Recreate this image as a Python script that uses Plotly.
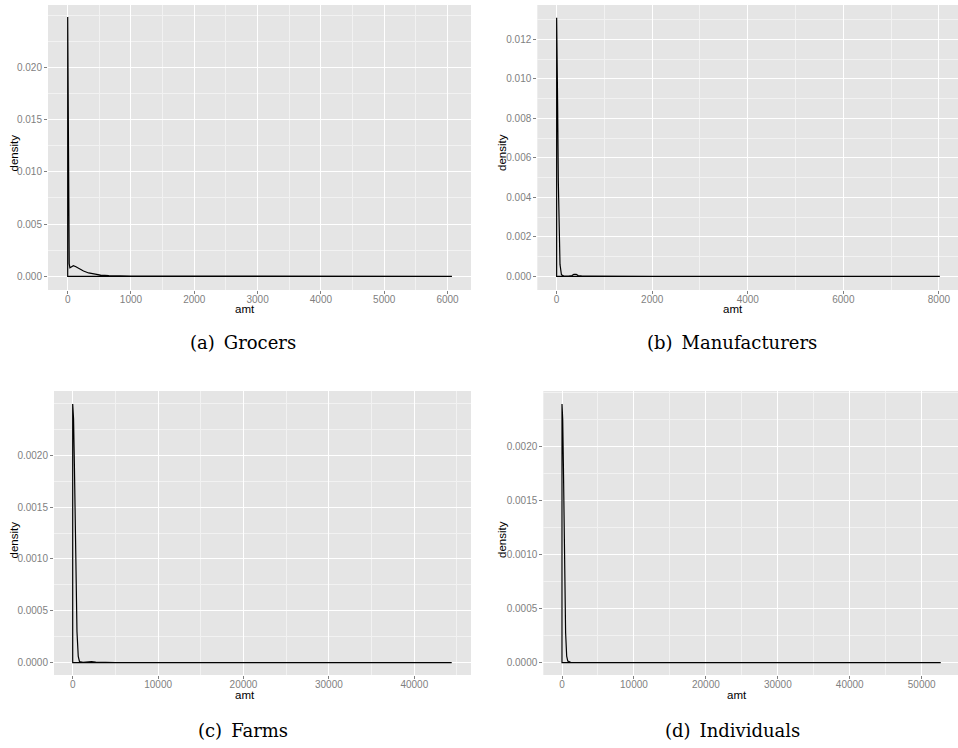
import plotly.graph_objects as go

# Kernel density estimates of transaction amounts, one panel per buyer type
panel_names = ["Grocers", "Manufacturers", "Farms", "Individuals"]
panel_tags = ["(a)", "(b)", "(c)", "(d)"]

grocers_amt = [0, 8, 16, 24, 35, 60, 90, 130, 180, 250, 330, 420, 520, 650, 800,
               1000, 1500, 2000, 3000, 4000, 5000, 6070]
grocers_density = [0.0248, 0.0175, 0.0060, 0.0012, 0.00082, 0.00092, 0.00101, 0.00092,
                   0.00072, 0.00050, 0.00032, 0.00020, 0.00011, 0.00006, 0.00004,
                   0.00003, 0.00002, 0.000012, 0.000006, 0.000004, 0.000003, 0.000002]

manufacturers_amt = [0, 10, 20, 35, 50, 70, 100, 150, 250, 320, 360, 385, 410, 450, 520,
                     700, 1000, 2000, 4000, 6000, 8020]
manufacturers_density = [0.0131, 0.0118, 0.0088, 0.0048, 0.0021, 0.0006, 0.00008, 0.00001,
                         0.00001, 0.00004, 0.00010, 0.00012, 0.00010, 0.00004, 0.00002,
                         0.00001, 0.000005, 0.000002, 0.000001, 0.0000005, 0.0000005]

farms_amt = [0, 100, 200, 300, 400, 500, 650, 800, 1200, 1800, 2200, 2700, 3500, 5000,
             10000, 20000, 30000, 44380]
farms_density = [0.002495, 0.00235, 0.0019, 0.0013, 0.0007, 0.0003, 0.00006, 0.00001,
                 0.000004, 0.000008, 0.00001, 0.000006, 0.000003, 0.000001, 0.0000005,
                 0.0000002, 0.0000001, 0.0000001]

individuals_amt = [0, 100, 200, 300, 400, 500, 650, 800, 1200, 2000, 5000, 10000, 20000,
                   30000, 40000, 52650]
individuals_density = [0.002395, 0.00225, 0.0018, 0.0012, 0.00065, 0.00028, 0.00006,
                       0.000015, 0.000004, 0.000002, 0.000001, 0.0000005, 0.0000002,
                       0.0000001, 0.0000001, 0.0000001]

series = [(grocers_amt, grocers_density), (manufacturers_amt, manufacturers_density),
          (farms_amt, farms_density), (individuals_amt, individuals_density)]

# axis ticks per panel
x_ticks = [[0, 1000, 2000, 3000, 4000, 5000, 6000],
           [0, 2000, 4000, 6000, 8000],
           [0, 10000, 20000, 30000, 40000],
           [0, 10000, 20000, 30000, 40000, 50000]]
x_minor = [500, 1000, 5000, 5000]
y_ticks = [[0.000, 0.005, 0.010, 0.015, 0.020],
           [0.000, 0.002, 0.004, 0.006, 0.008, 0.010, 0.012],
           [0.0000, 0.0005, 0.0010, 0.0015, 0.0020],
           [0.0000, 0.0005, 0.0010, 0.0015, 0.0020]]
y_minor = [0.0025, 0.001, 0.00025, 0.00025]
y_fmt = [".3f", ".3f", ".4f", ".4f"]

x_ranges = [[-311, 6371], [-405, 8400], [-2190, 46640], [-2600, 55050]]
y_ranges = [[-0.00131, 0.02596], [-0.000694, 0.01374],
            [-0.000119, 0.00262], [-0.000114, 0.002516]]

W, H = 958, 748
# panel rectangles in pixels: left, right, top, bottom
boxes = [(48, 471, 5, 290), (537.3, 958, 5, 290),
         (54, 471, 391, 675), (543.3, 958, 391, 675)]

GREY = "#7F7F7F"
BG = "#E5E5E5"
SANS = "Liberation Sans, Arial, sans-serif"

fig = go.Figure()
layout = dict(width=W, height=H, autosize=False,
              margin=dict(l=0, r=0, t=0, b=0),
              paper_bgcolor="white", plot_bgcolor=BG, showlegend=False,
              font=dict(family=SANS, size=10, color=GREY))
annotations = []

for i, (amt, dens) in enumerate(series):
    n = i + 1
    xa = "x" if n == 1 else f"x{n}"
    ya = "y" if n == 1 else f"y{n}"
    # closed density outline, including the baseline
    xs = list(amt) + [amt[-1], amt[0], amt[0]]
    ys = list(dens) + [0, 0, dens[0]]
    fig.add_trace(go.Scatter(x=xs, y=ys, mode="lines", xaxis=xa, yaxis=ya,
                             line=dict(color="black", width=1.2), hoverinfo="skip"))

    l, r, t, b = boxes[i]
    xkey = "xaxis" if n == 1 else f"xaxis{n}"
    ykey = "yaxis" if n == 1 else f"yaxis{n}"
    layout[xkey] = dict(domain=[l / W, r / W], anchor=ya, range=x_ranges[i],
                        tickvals=x_ticks[i], ticktext=[str(v) for v in x_ticks[i]],
                        ticks="outside", ticklen=3, tickwidth=1, tickcolor=GREY,
                        ticklabelstandoff=-3,
                        showgrid=True, gridcolor="white", gridwidth=1.3,
                        zeroline=False, showline=False,
                        tickfont=dict(family=SANS, size=10, color=GREY),
                        minor=dict(dtick=x_minor[i], tick0=0, showgrid=True,
                                   gridcolor="#F2F2F2", gridwidth=0.6, ticks=""))
    layout[ykey] = dict(domain=[1 - b / H, 1 - t / H], anchor=xa, range=y_ranges[i],
                        tickvals=y_ticks[i], tickformat=y_fmt[i],
                        ticks="outside", ticklen=3, tickwidth=1, tickcolor=GREY,
                        showgrid=True, gridcolor="white", gridwidth=1.3,
                        zeroline=False, showline=False,
                        tickfont=dict(family=SANS, size=10, color=GREY),
                        minor=dict(dtick=y_minor[i], tick0=0, showgrid=True,
                                   gridcolor="#F2F2F2", gridwidth=0.6, ticks=""))

# axis titles and sub-figure captions (pixel positions)
amt_pos = [(245, 309), (733, 309), (245, 695), (737, 695)]
dens_pos = [(13.5, 153), (502, 153), (13.5, 540), (502, 540)]
cap_pos = [(243, 343), (732, 343), (243, 730), (732, 730)]

for i in range(4):
    ax, ay = amt_pos[i]
    annotations.append(dict(text="amt", x=ax / W, y=1 - ay / H, xref="paper", yref="paper",
                            showarrow=False, xanchor="center", yanchor="middle",
                            font=dict(family=SANS, size=11.5, color="black")))
    dx, dy = dens_pos[i]
    annotations.append(dict(text="density", x=dx / W, y=1 - dy / H, xref="paper",
                            yref="paper", showarrow=False, textangle=-90,
                            xanchor="center", yanchor="middle",
                            font=dict(family=SANS, size=11.5, color="black")))
    cx, cy = cap_pos[i]
    annotations.append(dict(text=f"{panel_tags[i]}\u2002{panel_names[i]}",
                            x=cx / W, y=1 - cy / H, xref="paper", yref="paper",
                            showarrow=False, xanchor="center", yanchor="middle",
                            font=dict(family="DejaVu Serif, serif", size=18, color="black")))

layout["annotations"] = annotations
fig.update_layout(**layout)
fig.write_html("out.html")
